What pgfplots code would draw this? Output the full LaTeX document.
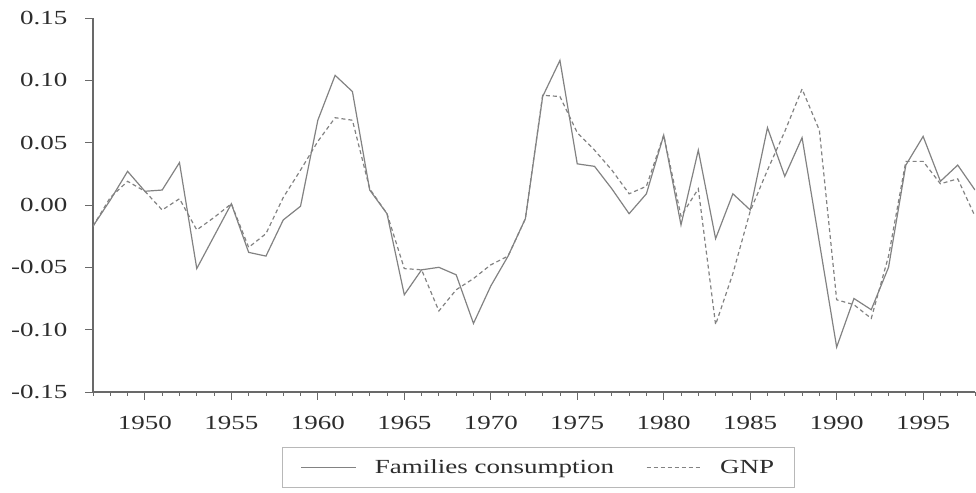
\documentclass[border=0pt]{standalone}
\usepackage{pgfplots}
\pgfplotsset{compat=1.18}
\usepackage{pgfplotstable}
\usepackage{fontspec}
\setmainfont{Liberation Serif}[FakeStretch=1.35]

\definecolor{axisgray}{RGB}{105,105,105}
\definecolor{linegray}{RGB}{130,130,130}
\definecolor{textgray}{RGB}{45,45,45}

\pgfplotstableread{
year cons gnp
1947 -0.017 -0.017
1948 0.004 0.006
1949 0.027 0.019
1950 0.011 0.011
1951 0.012 -0.004
1952 0.034 0.005
1953 -0.051 -0.020
1954 -0.025 -0.010
1955 0.001 0.001
1956 -0.038 -0.034
1957 -0.041 -0.023
1958 -0.012 0.006
1959 -0.001 0.028
1960 0.068 0.051
1961 0.104 0.070
1962 0.091 0.068
1963 0.012 0.013
1964 -0.007 -0.007
1965 -0.072 -0.051
1966 -0.052 -0.052
1967 -0.050 -0.085
1968 -0.056 -0.068
1969 -0.095 -0.059
1970 -0.065 -0.048
1971 -0.041 -0.041
1972 -0.011 -0.011
1973 0.087 0.088
1974 0.116 0.087
1975 0.033 0.058
1976 0.031 0.044
1977 0.013 0.028
1978 -0.007 0.009
1979 0.009 0.015
1980 0.056 0.056
1981 -0.016 -0.009
1982 0.044 0.013
1983 -0.027 -0.096
1984 0.009 -0.055
1985 -0.004 -0.005
1986 0.062 0.028
1987 0.023 0.059
1988 0.054 0.093
1989 -0.030 0.060
1990 -0.114 -0.076
1991 -0.075 -0.080
1992 -0.084 -0.091
1993 -0.050 -0.041
1994 0.032 0.035
1995 0.055 0.035
1996 0.019 0.017
1997 0.032 0.021
1998 0.012 -0.009
}\datatable

\begin{document}
\begin{tikzpicture}[x=1bp,y=1bp]
\useasboundingbox (0,0) rectangle (976,493);
\begin{axis}[
  at={(93bp,101bp)}, anchor=south west,
  scale only axis, width=882bp, height=374bp,
  xmin=1947, xmax=1998, ymin=-0.15, ymax=0.15,
  axis x line=bottom, axis y line=left,
  axis line style={-, draw=axisgray, line width=1.3bp},
  xtick={1950,1955,1960,1965,1970,1975,1980,1985,1990,1995},
  xticklabels={1950,1955,1960,1965,1970,1975,1980,1985,1990,1995},
  minor xtick={1947,1948,...,1998},
  ytick={-0.15,-0.10,-0.05,0,0.05,0.10,0.15},
  yticklabels={-0.15,-0.10,-0.05,0.00,0.05,0.10,0.15},
  tick align=outside, major tick length=8bp, minor tick length=4bp,
  tick style={draw=axisgray, line width=0.8bp},
  tick label style={font=\fontsize{20bp}{24bp}\selectfont, text=textgray},
  xticklabel style={yshift=-13bp},
  yticklabel style={xshift=-14bp},
  legend style={at={(0.505,-0.202)}, anchor=center, legend columns=2,
    draw=black!28, line width=1.2bp, text=textgray,
    font=\fontsize{20bp}{24bp}\selectfont,
    inner xsep=18bp, inner ysep=10bp,
    /tikz/every odd column/.append style={column sep=16bp},
    /tikz/every even column/.append style={column sep=30bp}},
  legend image code/.code={\draw[#1] (0bp,0bp) -- (55bp,0bp);},
]
\addplot[linegray, line width=1.2bp] table[x=year, y=cons] {\datatable};
\addlegendentry{Families consumption}
\addplot[linegray, line width=1.2bp, dash pattern=on 4bp off 3bp] table[x=year, y=gnp] {\datatable};
\addlegendentry{GNP}
\end{axis}
\end{tikzpicture}
\end{document}
